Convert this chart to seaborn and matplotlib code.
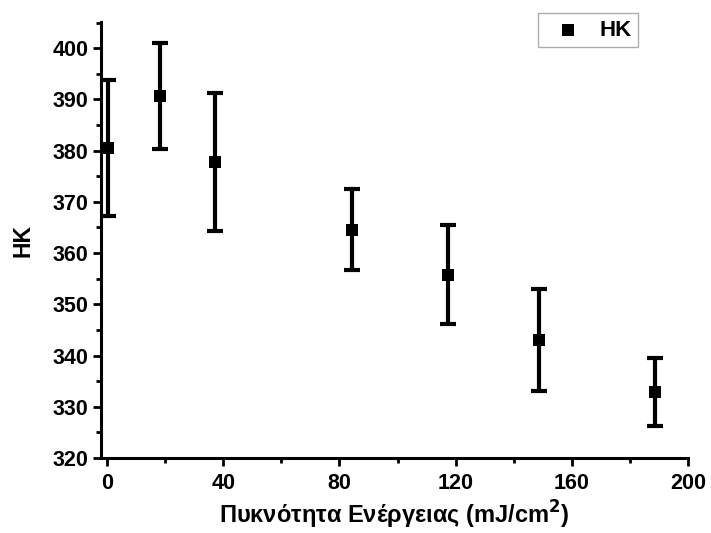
import matplotlib
matplotlib.use("Agg")
import matplotlib.pyplot as plt
from matplotlib.ticker import MultipleLocator
import seaborn as sns
import pandas as pd

# Energy fluence (mJ/cm^2), Knoop hardness and its standard deviation
fluence = [0.3, 18.2, 37.2, 84.3, 117.3, 148.5, 188.4]
hk = [380.5, 390.7, 377.8, 364.6, 355.8, 343.0, 332.9]
hk_err = [13.2, 10.3, 13.4, 8.0, 9.7, 10.0, 6.7]

df = pd.DataFrame({"fluence": fluence, "HK": hk, "err": hk_err})

sns.set_style("ticks")
plt.rcParams["font.family"] = ["Liberation Sans", "DejaVu Sans"]
plt.rcParams["font.weight"] = "bold"
plt.rcParams["text.color"] = "black"
plt.rcParams["axes.labelcolor"] = "black"

fig = plt.figure(figsize=(7.11, 5.33), dpi=100)
ax = fig.add_axes([0.142, 0.1407, 0.826, 0.818])

ax.errorbar(df["fluence"], df["HK"], yerr=df["err"], fmt="none",
            ecolor="black", elinewidth=3.0, capsize=6, capthick=3.0, zorder=2)
sns.scatterplot(data=df, x="fluence", y="HK", marker="s", s=80, color="black",
                edgecolor="black", linewidth=0, label="HK", ax=ax, zorder=3)

ax.set_xlim(-2.07, 200)
ax.set_ylim(320, 405.1)
ax.xaxis.set_major_locator(MultipleLocator(40))
ax.xaxis.set_minor_locator(MultipleLocator(20))
ax.yaxis.set_major_locator(MultipleLocator(10))
ax.yaxis.set_minor_locator(MultipleLocator(5))

sns.despine(ax=ax)
for side in ("left", "bottom"):
    ax.spines[side].set_linewidth(2.2)
    ax.spines[side].set_color("black")

ax.tick_params(which="major", direction="out", length=6, width=2, labelsize=15.5,
               colors="black")
ax.tick_params(axis="x", which="major", pad=5)
ax.tick_params(axis="y", which="major", pad=3)
ax.tick_params(which="minor", direction="out", length=3.5, width=2, colors="black")
for lbl in ax.get_xticklabels() + ax.get_yticklabels():
    lbl.set_fontweight("bold")

ax.set_xlabel("Πυκνότητα Ενέργειας (mJ/cm$^\\mathbf{2}$)", fontsize=17,
              fontweight="bold", labelpad=3, color="black")
ax.set_ylabel("HK", fontsize=16.5, fontweight="bold", labelpad=13, color="black")

leg = ax.legend(loc="upper right", bbox_to_anchor=(0.915, 1.021), borderaxespad=0,
                frameon=True, fancybox=False, fontsize=16, handletextpad=0.36,
                borderpad=0.3, handlelength=2.1, markerscale=1.0)
leg.get_frame().set_edgecolor("#999999")
leg.get_frame().set_linewidth(1.0)
for t in leg.get_texts():
    t.set_fontweight("bold")
    t.set_color("black")

fig.savefig("out.png", dpi=100, facecolor="white")
